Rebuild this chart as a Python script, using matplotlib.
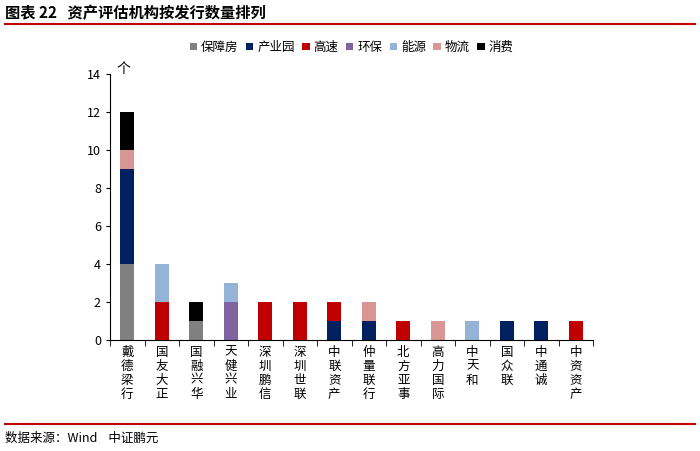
import numpy as np
import matplotlib.pyplot as plt
from matplotlib.lines import Line2D

plt.rcParams['font.family'] = ['Noto Sans CJK SC', 'DejaVu Sans']

# 机构名称
agencies = ["戴德梁行", "国友大正", "国融兴华", "天健兴业", "深圳鹏信", "深圳世联", "中联资产",
            "仲量联行", "北方亚事", "高力国际", "中天和", "国众联", "中通诚", "中资资产"]

# 各类型发行数量
baozhangfang = [4, 0, 1, 0, 0, 0, 0, 0, 0, 0, 0, 0, 0, 0]
chanyeyuan = [5, 0, 0, 0, 0, 0, 1, 1, 0, 0, 0, 1, 1, 0]
gaosu = [0, 2, 0, 0, 2, 2, 1, 0, 1, 0, 0, 0, 0, 1]
huanbao = [0, 0, 0, 2, 0, 0, 0, 0, 0, 0, 0, 0, 0, 0]
nengyuan = [0, 2, 0, 1, 0, 0, 0, 0, 0, 0, 1, 0, 0, 0]
wuliu = [1, 0, 0, 0, 0, 0, 0, 1, 0, 1, 0, 0, 0, 0]
xiaofei = [2, 0, 1, 0, 0, 0, 0, 0, 0, 0, 0, 0, 0, 0]

series = [("保障房", baozhangfang, "#808080"),
          ("产业园", chanyeyuan, "#002060"),
          ("高速", gaosu, "#C00000"),
          ("环保", huanbao, "#8064A2"),
          ("能源", nengyuan, "#95B3D7"),
          ("物流", wuliu, "#DA9694"),
          ("消费", xiaofei, "#000000")]

fig = plt.figure(figsize=(7, 4.51), dpi=100)

# 标题和红线
fig.text(5 / 700, 1 - 13 / 451, "图表 22   资产评估机构按发行数量排列", fontsize=11,
         fontweight="bold", va="center", ha="left")
fig.add_artist(Line2D([5 / 700, 695 / 700], [1 - 24 / 451, 1 - 24 / 451], color="#C00000", lw=1.5))
fig.add_artist(Line2D([5 / 700, 695 / 700], [1 - 424 / 451, 1 - 424 / 451], color="#C00000", lw=1.5))
fig.text(5 / 700, 1 - 438 / 451, "数据来源：Wind    中证鹏元", fontsize=9, va="center", ha="left")

ax = fig.add_axes([110 / 700, 1 - 340 / 451, 483 / 700, 266 / 451])
x = np.arange(len(agencies))
bottom = np.zeros(len(agencies))
for name, vals, col in series:
    vals = np.array(vals)
    ax.bar(x, vals, 0.4, bottom=bottom, color=col, label=name)
    bottom += vals

ax.set_xlim(-0.5, len(agencies) - 0.5)
ax.set_ylim(0, 14)
ax.set_yticks(range(0, 15, 2))
ax.tick_params(axis="y", labelsize=9, direction="out", length=3)
ax.set_xticks(x)
ax.set_xticklabels(["\n".join(a) for a in agencies], fontsize=9, linespacing=1.1)
ax.tick_params(axis="x", length=0, pad=4)
ax.set_xticks(np.arange(-0.5, len(agencies), 1), minor=True)
ax.tick_params(axis="x", which="minor", length=4, direction="out")
for s in ["top", "right"]:
    ax.spines[s].set_visible(False)
ax.text(-0.12, 14.25, "个", fontsize=10, ha="center", va="center", clip_on=False)

leg = ax.legend(loc="center", bbox_to_anchor=(0.5, 1.1), ncol=7, frameon=False,
                fontsize=9, handlelength=0.6, handleheight=0.6, handletextpad=0.3,
                columnspacing=0.6)

fig.savefig("out.png", dpi=100)
